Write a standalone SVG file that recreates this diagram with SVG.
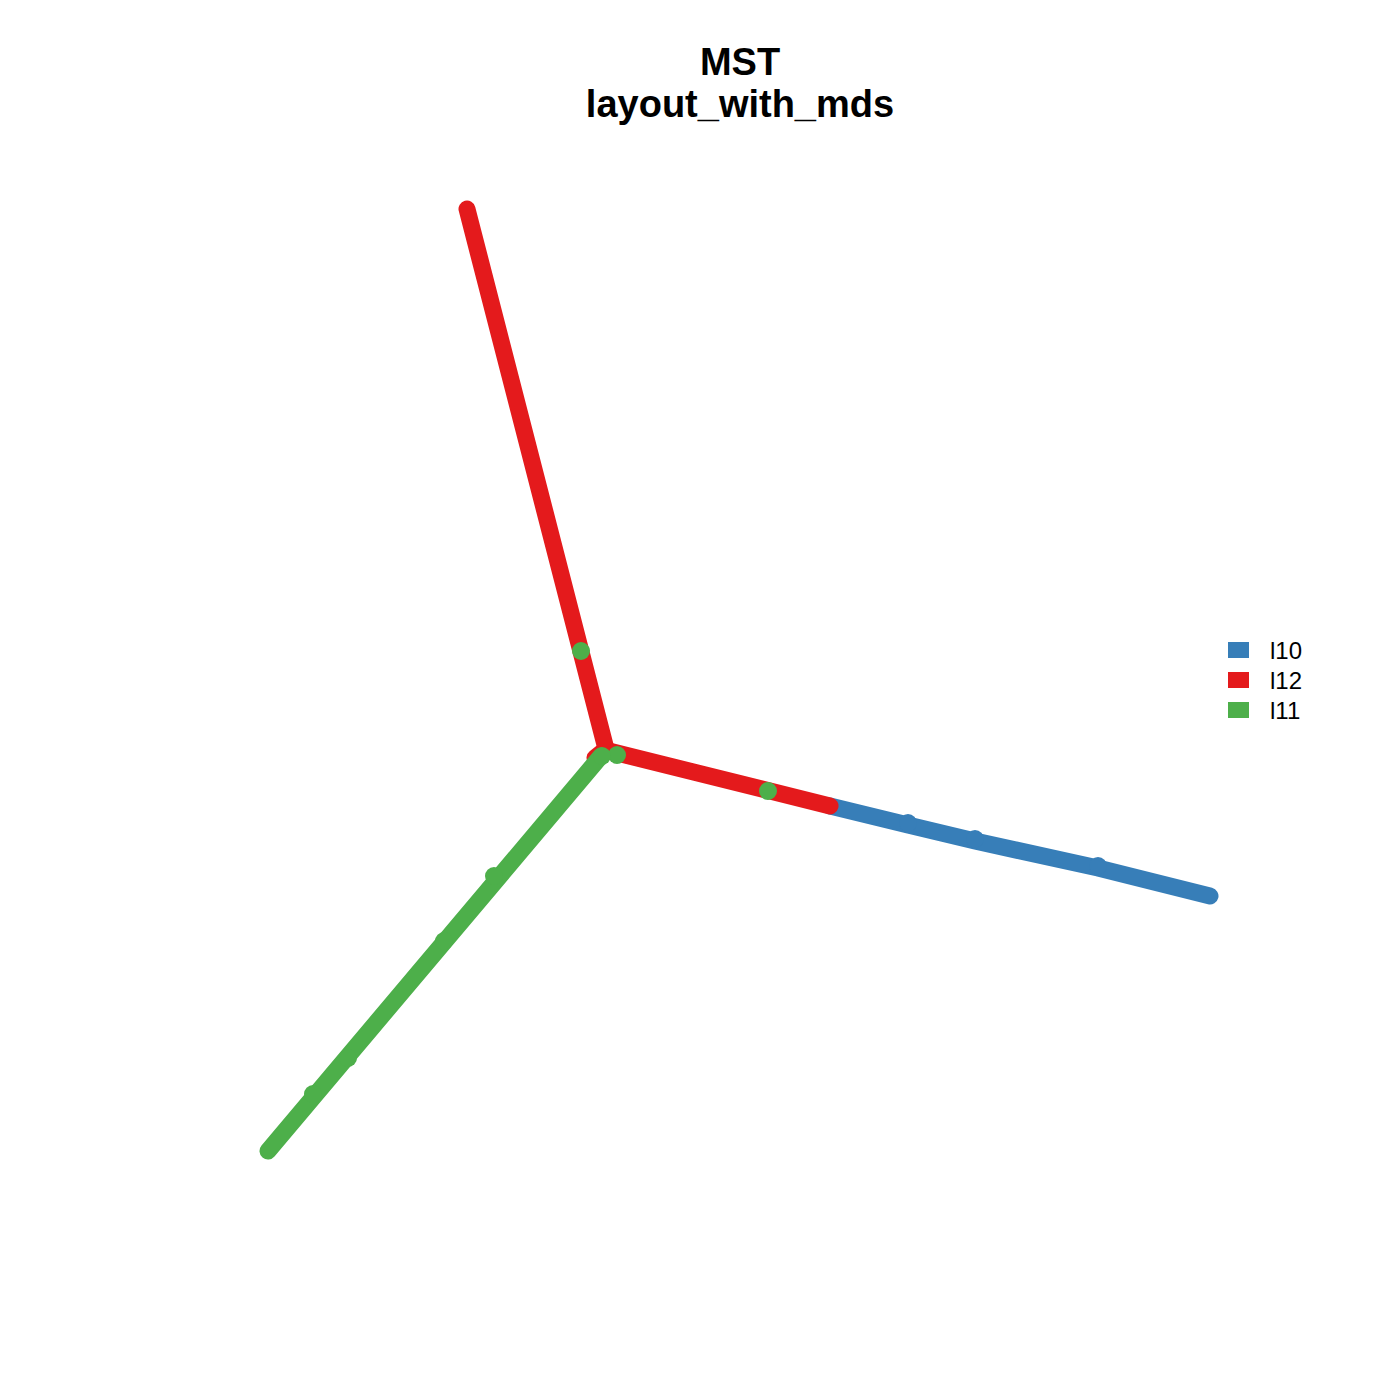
<svg xmlns="http://www.w3.org/2000/svg" width="1400" height="1400" viewBox="0 0 1400 1400">
<style>
.t{font-family:"Liberation Sans",Arial,sans-serif;font-weight:bold;font-size:38px;text-anchor:middle;fill:#000}
.l{font-family:"Liberation Sans",Arial,sans-serif;font-size:24px;fill:#000}
.arm{fill:none;stroke-width:17;stroke-linecap:round;stroke-linejoin:round}
.b{stroke:#377EB8}.r{stroke:#E41A1C}.g{stroke:#4DAF4A}
.bd{fill:#377EB8}.rd{fill:#E41A1C}.gd{fill:#4DAF4A}
</style>
<rect width="1400" height="1400" fill="#fff"/>
<text class="t" x="740" y="75">MST</text>
<text class="t" x="740" y="117">layout_with_mds</text>
<g id="connectors">
<path class="arm b" d="M830,806 L908,825 L975,841 L1098,868 L1210,896"/>
<path class="arm r" d="M595,758 L605,750 L830,806"/>
<path class="arm r" d="M467,209 L605,745"/>
<path class="arm g" d="M601,756 L268,1151"/>
</g>
<g id="nodes">
<g id="blue-nodes">
<circle class="bd" cx="908" cy="823" r="9"/>
<circle class="bd" cx="975" cy="839" r="9"/>
<circle class="bd" cx="1098" cy="866" r="9"/>
</g>
<g id="green-nodes">
<circle class="gd" cx="581" cy="651" r="9"/>
<circle class="gd" cx="617" cy="755" r="9"/>
<circle class="gd" cx="602" cy="756" r="9"/>
<circle class="gd" cx="768" cy="791" r="9"/>
<circle class="gd" cx="494" cy="876" r="9"/>
<circle class="gd" cx="444" cy="941" r="9"/>
<circle class="gd" cx="348" cy="1058" r="9"/>
<circle class="gd" cx="313" cy="1094" r="9"/>
</g>
</g>
<g id="legend">
<rect x="1228" y="642" width="21" height="16" fill="#377EB8"/>
<rect x="1228" y="672" width="21" height="16" fill="#E41A1C"/>
<rect x="1228" y="702" width="21" height="16" fill="#4DAF4A"/>
<text class="l" x="1270" y="659">l10</text>
<text class="l" x="1270" y="689">l12</text>
<text class="l" x="1270" y="719">l11</text>
</g>
</svg>
